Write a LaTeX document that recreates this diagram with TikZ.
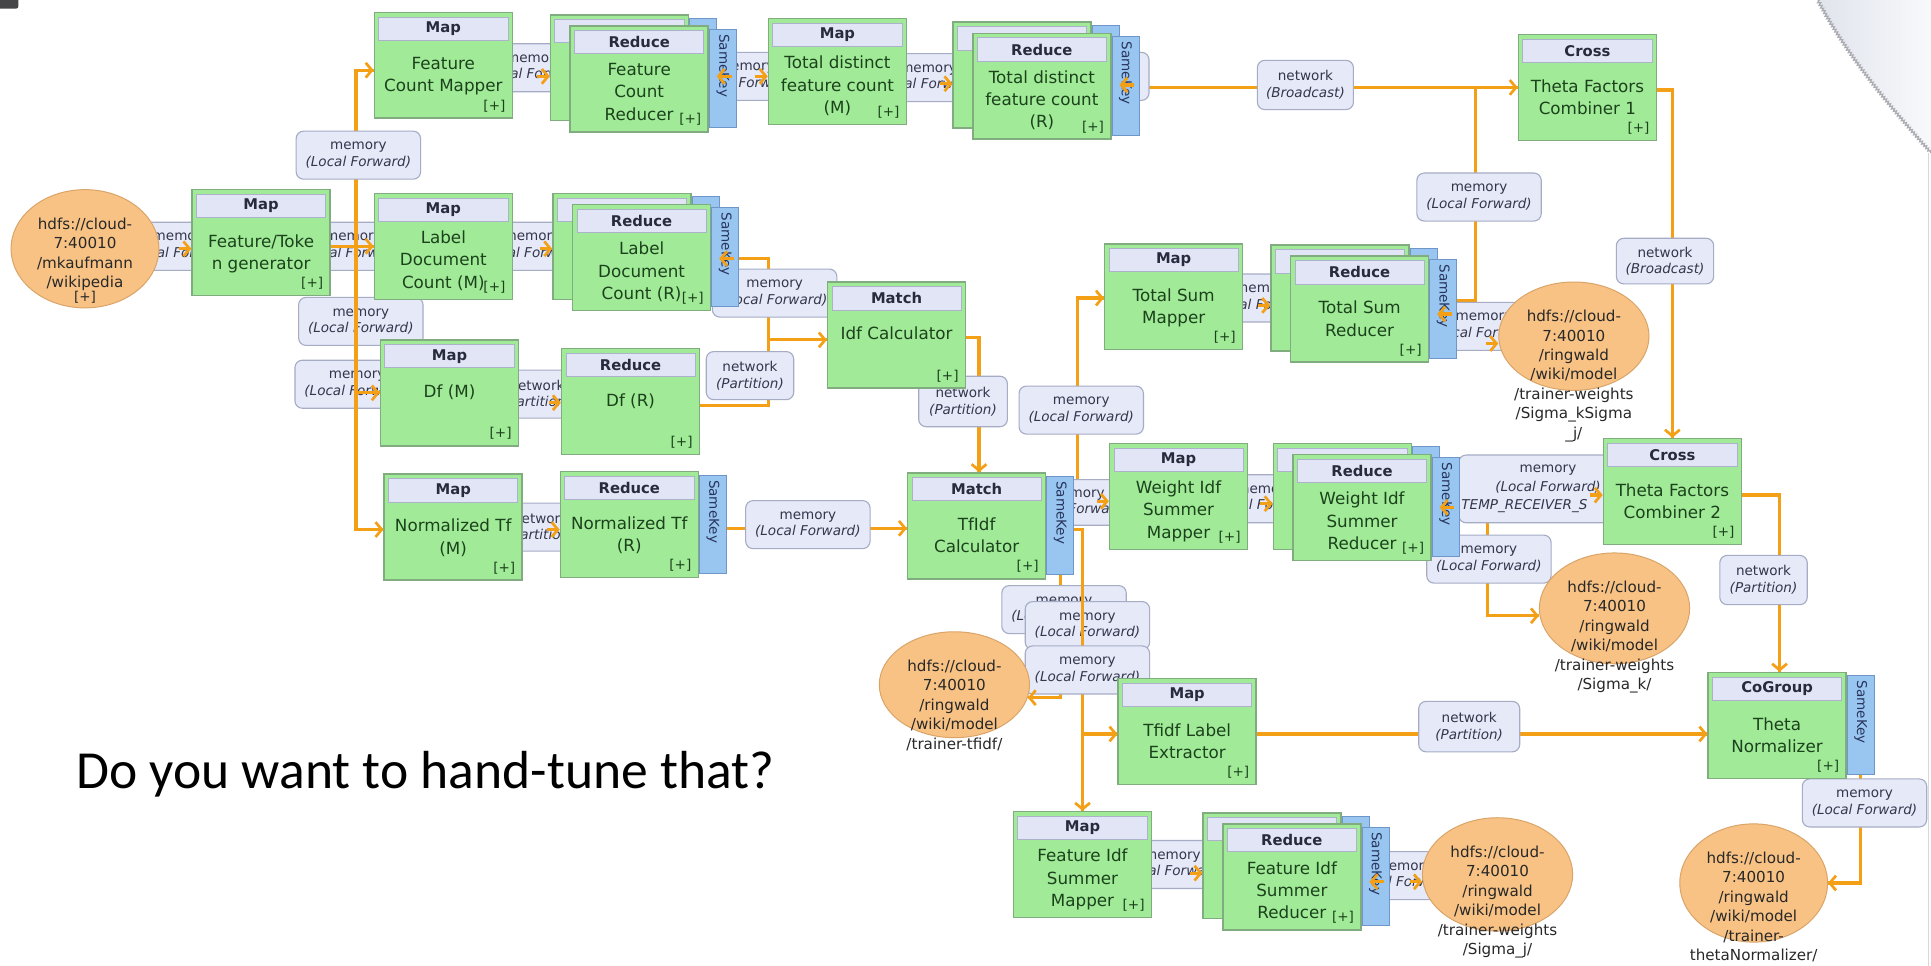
\documentclass[tikz,border=0pt]{standalone}
\usepackage{fontspec}
\newfontfamily\diafont{DejaVu Sans}
\newfontfamily\slidefont{Carlito}
\usetikzlibrary{arrows.meta,shapes.geometric,decorations.pathmorphing}

\pgfdeclarelayer{bg}
\pgfdeclarelayer{wiresunder}
\pgfdeclarelayer{lowlabels}
\pgfdeclarelayer{wires}
\pgfdeclarelayer{labels}
\pgfdeclarelayer{tips}
\pgfsetlayers{bg,wiresunder,lowlabels,wires,labels,main,tips}

\definecolor{boxgreen}{RGB}{160,234,152}
\definecolor{boxedge}{RGB}{128,172,128}
\definecolor{headfill}{RGB}{226,229,246}
\definecolor{headedge}{RGB}{172,178,204}
\definecolor{bodytext}{RGB}{28,66,28}
\definecolor{headtext}{RGB}{40,42,62}
\definecolor{stripfill}{RGB}{152,198,240}
\definecolor{stripedge}{RGB}{110,150,200}
\definecolor{striptext}{RGB}{40,52,92}
\definecolor{lblfill}{RGB}{229,233,248}
\definecolor{lbledge}{RGB}{165,172,196}
\definecolor{lbltext}{RGB}{52,54,74}
\definecolor{hdfsfill}{RGB}{247,194,132}
\definecolor{hdfsedge}{RGB}{218,164,104}
\definecolor{hdfsink}{RGB}{40,40,40}
\definecolor{wire}{RGB}{244,160,22}
\definecolor{curlgrey}{RGB}{224,228,236}
\definecolor{curlpale}{RGB}{248,249,251}
\definecolor{curledge}{RGB}{170,172,178}
\definecolor{darkmark}{RGB}{70,70,72}

\tikzset{
  opbox/.style={rectangle, draw=boxedge, line width=1.2pt, fill=boxgreen,
    minimum width=112pt, minimum height=86pt, inner sep=0pt},
  ophead/.style={rectangle, draw=headedge, line width=0.6pt, fill=headfill,
    minimum width=105pt, minimum height=19pt, inner sep=0pt,
    font=\diafont\bfseries\fontsize{12}{14}\selectfont, text=headtext},
  opbody/.style={align=center, inner sep=0pt,
    font=\diafont\fontsize{13.6}{18}\selectfont, text=bodytext},
  opplus/.style={inner sep=0pt, font=\diafont\fontsize{11}{13}\selectfont, text=bodytext},
  keystripbox/.style={rectangle, rotate=-90, draw=stripedge, line width=0.8pt,
    fill=stripfill, text width=72pt, align=left, inner xsep=4pt, inner ysep=0pt,
    minimum height=22pt, font=\diafont\fontsize{11}{13}\selectfont, text=striptext},
  lbl/.style={rectangle, rounded corners=6pt, draw=lbledge, line width=0.9pt,
    fill=lblfill, minimum width=101pt, minimum height=39pt, inner sep=1pt,
    align=center, font=\diafont\fontsize{11}{13.5}\selectfont, text=lbltext},
  hdfs/.style={ellipse, draw=hdfsedge, line width=0.8pt, fill=hdfsfill, inner sep=0pt},
  hdfstext/.style={align=center, inner sep=0pt,
    font=\diafont\fontsize{12.3}{15.8}\selectfont, text=hdfsink},
  conn/.style={draw=wire, line width=2.6pt},
  wiretip/.style={draw=wire, line width=2.6pt,
    -{Straight Barb[length=5pt,width=12pt,line width=2.2pt]}},
}

\newcommand\memtxt{memory\\\textit{(Local Forward)}}
\newcommand\netpart{network\\\textit{(Partition)}}
\newcommand\netbcast{network\\\textit{(Broadcast)}}

% operator box: name, left, top, header, body, drop of the body text
\newcommand\jobop[6]{%
  \node[opbox] (#1) at (#2+56,#3+43) {};
  \node[ophead, anchor=north] (#1h) at ([yshift=-4pt]#1.north) {#4};
  \node[opbody, anchor=north] (#1t) at ([yshift=-#6pt]#1.north) {#5};
  \node[opplus, anchor=base east] (#1p) at ([xshift=-6pt,yshift=7pt]#1.south east) {[+]};}
% second instance peeking out behind a parallel operator
\newcommand\shadowop[3]{%
  \node[opbox] (#1) at (#2+40,#3+34) {};
  \node[ophead, anchor=north] (#1h) at ([yshift=-4pt]#1.north) {};
  \node[keystripbox, anchor=south west] (#1s) at ([yshift=-3pt]#1.north east) {};}
\newcommand\keystrip[1]{%
  \node[keystripbox, anchor=south west] (#1s) at ([yshift=-3pt]#1.north east) {SameKey};}
% hdfs data set: name, cx, cy, width, height, path
\newcommand\hdfsnode[6]{%
  \node[hdfs, minimum width=#4pt, minimum height=#5pt] (#1) at (#2,#3) {};
  \node[hdfstext, anchor=north] (#1t) at ([yshift=-23pt]#1.north) {#6};}
\newcommand\tipR[1]{\draw[wiretip] (#1) ++(-10,0) -- (#1);}
\newcommand\tipL[1]{\draw[wiretip] (#1) ++(10,0) -- (#1);}
\newcommand\tipD[1]{\draw[wiretip] (#1) ++(0,-10) -- (#1);}

\begin{document}
\begin{tikzpicture}[x=1pt,y=-1pt]
\useasboundingbox (0,0) rectangle (1568,784);
\begin{pgfonlayer}{bg}
  \fill[white] (0,0) rectangle (1568,784);
\end{pgfonlayer}

% ---------- operators ----------
\hdfsnode{src}{69}{202}{120}{96}{hdfs://cloud-\\7:40010\\/mkaufmann\\/wikipedia}
\node[opplus, text=hdfsink] (srcp) at (69,241) {[+]};

\jobop{FT}{156}{154}{Map}{Feature/Toke\\n generator}{37}
\jobop{FCM}{304}{10}{Map}{Feature\\Count Mapper}{37}
\jobop{LDCM}{304}{157}{Map}{Label\\Document\\Count (M)}{31}
\jobop{DfM}{309}{276}{Map}{Df (M)}{37}
\jobop{NTfM}{312}{385}{Map}{Normalized Tf\\(M)}{37}

\shadowop{FCRb}{463}{21}
\jobop{FCR}{463}{21}{Reduce}{Feature\\Count\\Reducer}{31}
\keystrip{FCR}
\shadowop{LDCRb}{465}{166}
\jobop{LDCR}{465}{166}{Reduce}{Label\\Document\\Count (R)}{31}
\keystrip{LDCR}
\jobop{DfR}{456}{283}{Reduce}{Df (R)}{37}
\jobop{NTfR}{455}{383}{Reduce}{Normalized Tf\\(R)}{37}
\keystrip{NTfR}

\jobop{TDFCM}{624}{15}{Map}{Total distinct\\feature count\\(M)}{31}
\shadowop{TDFCRb}{790}{27}
\jobop{TDFCR}{790}{27}{Reduce}{Total distinct\\feature count\\(R)}{31}
\keystrip{TDFCR}
\jobop{Idf}{672}{229}{Match}{Idf Calculator}{37}
\jobop{TfIdf}{737}{384}{Match}{TfIdf\\Calculator}{37}
\keystrip{TfIdf}

\jobop{TSM}{897}{198}{Map}{Total Sum\\Mapper}{37}
\shadowop{TSRb}{1048}{208}
\jobop{TSR}{1048}{208}{Reduce}{Total Sum\\Reducer}{37}
\keystrip{TSR}
\jobop{WISM}{901}{360}{Map}{Weight Idf\\Summer\\Mapper}{31}
\shadowop{WISRb}{1050}{369}
\jobop{WISR}{1050}{369}{Reduce}{Weight Idf\\Summer\\Reducer}{31}
\keystrip{WISR}
\jobop{CrossA}{1233}{28}{Cross}{Theta Factors\\Combiner 1}{37}
\jobop{CrossB}{1302}{356}{Cross}{Theta Factors\\Combiner 2}{37}
\jobop{TN}{1387}{546}{CoGroup}{Theta\\Normalizer}{37}
\keystrip{TN}
\jobop{TLE}{908}{551}{Map}{Tfidf Label\\Extractor}{37}
\jobop{FISM}{823}{659}{Map}{Feature Idf\\Summer\\Mapper}{31}
\shadowop{FISRb}{993}{669}
\jobop{FISR}{993}{669}{Reduce}{Feature Idf\\Summer\\Reducer}{31}
\keystrip{FISR}

\hdfsnode{S1}{1278}{273}{122}{88}{hdfs://cloud-\\7:40010\\/ringwald\\/wiki/model\\/trainer-weights\\/Sigma\_kSigma\\\_j/}
\hdfsnode{S2}{1311}{494}{122}{90}{hdfs://cloud-\\7:40010\\/ringwald\\/wiki/model\\/trainer-weights\\/Sigma\_k/}
\hdfsnode{S3}{775}{556}{122}{86}{hdfs://cloud-\\7:40010\\/ringwald\\/wiki/model\\/trainer-tfidf/}
\hdfsnode{S4}{1424}{717}{120}{96}{hdfs://cloud-\\7:40010\\/ringwald\\/wiki/model\\/trainer-\\thetaNormalizer/}
\hdfsnode{S5}{1216}{710}{122}{92}{hdfs://cloud-\\7:40010\\/ringwald\\/wiki/model\\/trainer-weights\\/Sigma\_j/}

% junctions
\coordinate (J1) at (289,200);
\coordinate (J2) at (624,276);
\coordinate (J3) at (875,407);

% ---------- channels ----------
\begin{pgfonlayer}{wiresunder}
  \draw[conn] (TfIdfs.east) |- (S3.-10);
\end{pgfonlayer}

\begin{pgfonlayer}{wires}
  \draw[conn] (src.east) -- (src.east -| FT.west);
  \draw[conn] (FT.east |- J1) -- (LDCM.west |- J1);
  \draw[conn] (J1) |- (FCM.west |- 0,57);
  \draw[conn] (J1) |- (NTfM.west |- 0,430);
  \draw[conn] (J1 |- 0,319) -- (DfM.west |- 0,319);
  \draw[conn] (FCM.east |- 0,62) -- (FCRb.west |- 0,62);
  \draw[conn] (FCRs.north |- 0,62) -- (TDFCM.west |- 0,62);
  \draw[conn] (TDFCM.east |- 0,68) -- (TDFCRb.west |- 0,68);
  \draw[conn] (TDFCRs.north |- 0,71) -- (CrossA.west |- 0,71);
  \draw[conn] (LDCM.east |- 0,202) -- (LDCRb.west |- 0,202);
  \draw[conn] (LDCRs.north |- 0,210) -| (J2) -- (Idf.west |- J2);
  \draw[conn] (DfR.east |- 0,329) -| (J2);
  \draw[conn] (DfM.east |- 0,327) -- (DfR.west |- 0,327);
  \draw[conn] (Idf.east |- 0,274) -| (TfIdf.north -| 795,0);
  \draw[conn] (NTfM.east |- 0,430) -- (NTfR.west |- 0,430);
  \draw[conn] (NTfRs.north |- 0,429) -- (TfIdf.west |- 0,429);
  \draw[conn] (TfIdfs.north |- J3) -- (WISM.west |- J3);
  \draw[conn] (J3) |- (TSM.west |- 0,242);
  \draw[conn] (TfIdfs.north |- 0,430) -| (FISM.north -| 879,0);
  \draw[conn] (879,596) -- (TLE.west |- 0,596);
  \draw[conn] (TSM.east |- 0,248) -- (TSRb.west |- 0,248);
  \draw[conn] (TSRs.north |- 0,244) -| (1198,71);
  \draw[conn] (TSRs.north |- 0,279) -- (S1.west |- 0,279);
  \draw[conn] (CrossA.east |- 0,73) -| (CrossB.north -| 1358,0);
  \draw[conn] (WISM.east |- 0,409) -- (WISRb.west |- 0,409);
  \draw[conn] (WISRs.north |- 0,402) -- (CrossB.west |- 0,402);
  \draw[conn] (WISRs.north |- 0,411) -| (1208,500) -- (S2.west |- 0,500);
  \draw[conn] (CrossB.east |- 0,402) -| (TN.north -| 1445,0);
  \draw[conn] (TLE.east |- 0,596) -- (TN.west |- 0,596);
  \draw[conn] (FISM.east |- 0,709) -- (FISRb.west |- 0,709);
  \draw[conn] (FISRs.north |- 0,716) -- (S5.west |- 0,716);
  \draw[conn] (TNs.east) |- (S4.east);
\end{pgfonlayer}

% ---------- channel labels ----------
\begin{pgfonlayer}{lowlabels}
  \node[lbl] (h2) at (287,200) {\memtxt};
  \node[lbl] (lbLDC) at (293,261) {\memtxt};
  \node[lbl] (h7) at (290,312) {\memtxt};
  \node[lbl] (lbT1) at (864,495) {\memtxt};
  \node[lbl] (lbT2) at (883,508) {\memtxt};
\end{pgfonlayer}

\begin{pgfonlayer}{labels}
  \node[lbl] (h1) at (147,200) {\memtxt};
  \node[lbl] (h3) at (434,55) {\memtxt};
  \node[lbl] (h4) at (606,62) {\memtxt};
  \node[lbl] (h5) at (754,63) {\memtxt};
  \node[lbl, minimum width=40pt] (h16) at (913,62) {};
  \node[lbl] (h6) at (432,200) {\memtxt};
  \node[lbl, minimum width=71pt] (h8) at (436,320) {\netpart};
  \node[lbl, minimum width=71pt] (h9) at (439,428) {\netpart};
  \node[lbl] (h10) at (1026,242) {\memtxt};
  \node[lbl] (h11) at (1027,405) {\memtxt};
  \node[lbl] (h12) at (952,702) {\memtxt};
  \node[lbl, minimum height=37pt] (h13) at (874,408) {\memtxt};
  \node[lbl] (h14) at (1205,265) {\memtxt};
  \node[lbl] (h15) at (1140,711) {\memtxt};

  \node[lbl] (lbFCM) at (291,126) {\memtxt};
  \node[lbl, minimum width=78pt, minimum height=40pt] (lbBc1) at (1060,69) {\netbcast};
  \node[lbl] (lbTSR) at (1201,160) {\memtxt};
  \node[lbl, minimum width=79pt, minimum height=37pt] (lbBc2) at (1352,212) {\netbcast};
  \node[lbl] (lbLDCR) at (629,238) {\memtxt};
  \node[lbl, minimum width=71pt] (lbDfR) at (609,305) {\netpart};
  \node[lbl, minimum width=72pt, minimum height=41pt] (lbIdf) at (782,326) {\netpart};
  \node[lbl] (lbNTf) at (656,426) {\memtxt};
  \node[lbl] (lbTfR) at (878,333) {\memtxt};
  \node[lbl, minimum width=145pt, minimum height=55pt, font=\diafont\fontsize{11}{15}\selectfont]
    (lbTemp) at (1257,397) {memory\\\textit{(Local Forward)}\\\textit{TEMP\_RECEIVER\_S}\phantom{ENDER}};
  \node[lbl] (lbWISR) at (1209,454) {\memtxt};
  \node[lbl, minimum width=71pt, minimum height=40pt] (lbCB) at (1432,471) {\netpart};
  \node[lbl] (lbT3) at (883,544) {\memtxt};
  \node[lbl, minimum width=82pt, minimum height=41pt] (lbTLE) at (1193,590) {\netpart};
  \node[lbl] (lbTN) at (1514,652) {\memtxt};
\end{pgfonlayer}

% ---------- arrow heads and key-strip markers ----------
\begin{pgfonlayer}{tips}
  \tipR{src.east -| FT.west}
  \tipR{LDCM.west |- J1}
  \tipR{FCM.west |- 0,57}
  \tipR{DfM.west |- 0,319}
  \tipR{NTfM.west |- 0,430}
  \tipR{FCRb.west |- 0,62}
  \tipR{TDFCM.west |- 0,62}
  \tipR{TDFCRb.west |- 0,68}
  \tipR{CrossA.west |- 0,71}
  \tipR{LDCRb.west |- 0,202}
  \tipR{Idf.west |- J2}
  \tipR{DfR.west |- 0,327}
  \tipD{TfIdf.north -| 795,0}
  \tipR{NTfR.west |- 0,430}
  \tipR{TfIdf.west |- 0,429}
  \tipR{TSM.west |- 0,242}
  \tipR{WISM.west |- J3}
  \tipR{TLE.west |- 0,596}
  \tipD{FISM.north -| 879,0}
  \tipL{S3.-10}
  \tipR{TSRb.west |- 0,248}
  \tipR{S1.west |- 0,279}
  \tipD{CrossB.north -| 1358,0}
  \tipR{WISRb.west |- 0,409}
  \tipR{CrossB.west |- 0,402}
  \tipR{S2.west |- 0,500}
  \tipD{TN.north -| 1445,0}
  \tipR{TN.west |- 0,596}
  \tipR{FISRb.west |- 0,709}
  \tipR{S5.west |- 0,716}
  \tipL{S4.east}
  \draw[wiretip] (FCRs.center |- 0,62) ++(7,0) -- ++(-12,0);
  \draw[wiretip] (TDFCRs.center |- 0,69) ++(7,0) -- ++(-12,0);
  \draw[wiretip] (LDCRs.center |- 0,210) ++(7,0) -- ++(-12,0);
  \draw[wiretip] (TSRs.center |- 0,255) ++(7,0) -- ++(-12,0);
  \draw[wiretip] (WISRs.center |- 0,412) ++(7,0) -- ++(-12,0);
  \draw[wiretip] (FISRs.center |- 0,716) ++(7,0) -- ++(-12,0);
\end{pgfonlayer}

% ---------- slide ----------
\node[anchor=base west, inner sep=0pt, font=\slidefont\fontsize{43.5}{50}\selectfont]
  (title) at (62,640) {Do you want to hand-tune that?};
\fill[darkmark, rounded corners=2pt] (-4,-4) rectangle (15,7);
\shade[left color=curlgrey, right color=curlpale]
  (1476,0) -- (1568,0) -- (1568,124) .. controls (1536,88) and (1500,46) .. (1476,0) -- cycle;
\draw[curledge, line width=1pt, decorate, decoration={zigzag, segment length=2.5pt, amplitude=1.1pt}]
  (1476,0) .. controls (1500,46) and (1536,88) .. (1568,124);
\draw[gray!30, line width=0.8pt] (1566,124) -- (1566,784);
\end{tikzpicture}
\end{document}
